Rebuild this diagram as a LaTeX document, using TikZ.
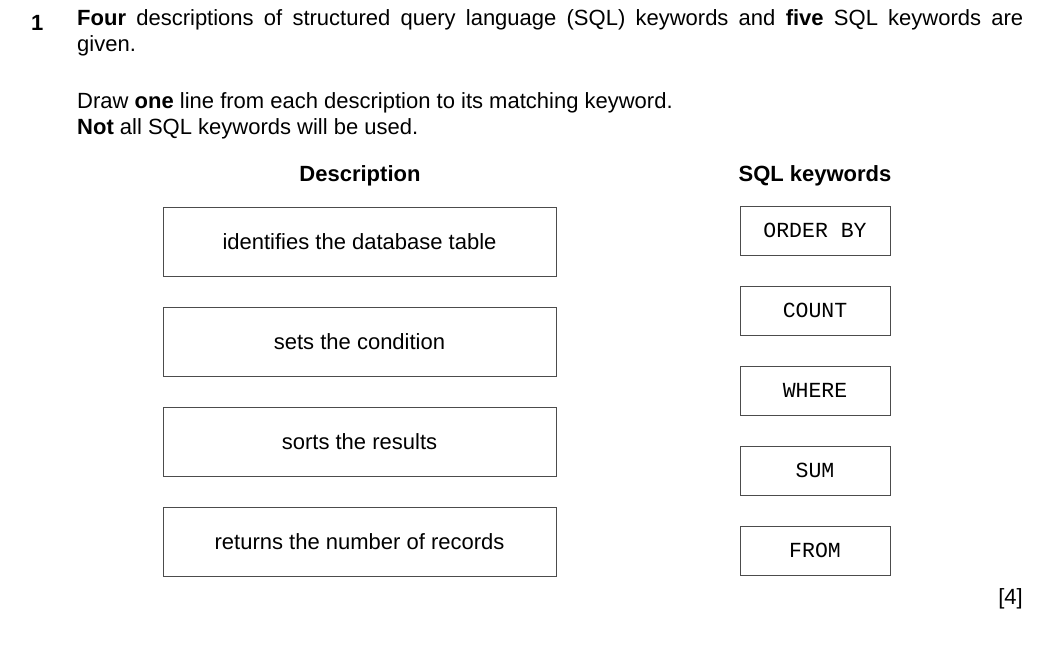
\documentclass[tikz,border=0pt]{standalone}
\usepackage{fontspec}
\setmainfont{Liberation Sans}
\setmonofont{Liberation Mono}
\begin{document}
\begin{tikzpicture}[x=1pt,y=-1pt,
  desc/.style={draw=black!70,line width=0.8pt,minimum width=393pt,minimum height=69pt,inner sep=0pt,font=\fontsize{22}{26}\selectfont},
  kw/.style={draw=black!70,line width=0.8pt,minimum width=150pt,minimum height=49pt,inner sep=0pt,font=\ttfamily\fontsize{21.5}{24}\selectfont},
  txt/.style={inner sep=0pt,font=\fontsize{22}{26}\selectfont}]
\useasboundingbox (0,0) rectangle (1056,656);
\node[txt,anchor=base west] (num) at (31,30) {\textbf{1}};
\node[txt,anchor=north west,text width=946pt,align=justify] (intro) at (77,9) {\textbf{Four} descriptions of structured query language (SQL) keywords and \textbf{five} SQL keywords are\linebreak given.};
\node[txt,anchor=base west] (draw) at (77,108) {Draw \textbf{one} line from each description to its matching keyword.};
\node[txt,anchor=base west] (notall) at (77,134) {\textbf{Not} all SQL keywords will be used.};
\node[txt,anchor=base] (hd) at (360,181) {\textbf{Description}};
\node[txt,anchor=base] (hk) at (815,181) {\textbf{SQL keywords}};
\node[desc] (d1) at (359.5,241.5) {identifies the database table};
\node[desc] (d2) at (359.5,341.5) {sets the condition};
\node[desc] (d3) at (359.5,441.5) {sorts the results};
\node[desc] (d4) at (359.5,541.5) {returns the number of records};
\node[kw] (k1) at (815,230.5) {ORDER BY};
\node[kw] (k2) at (815,310.5) {COUNT};
\node[kw] (k3) at (815,390.5) {WHERE};
\node[kw] (k4) at (815,470.5) {SUM};
\node[kw] (k5) at (815,550.5) {FROM};
\node[txt,anchor=base east] (mark) at (1023,604) {[4]};
\end{tikzpicture}
\end{document}
